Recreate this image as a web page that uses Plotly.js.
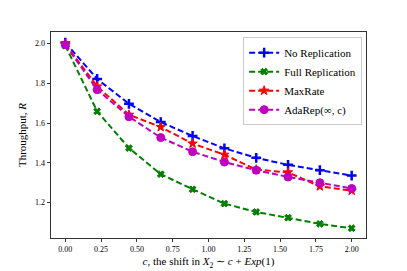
<!DOCTYPE html>
<html>
<head>
<meta charset="utf-8">
<script src="https://cdn.plot.ly/plotly-3.0.1.min.js"></script>
<style>html,body{margin:0;padding:0;background:#fff;}#chart{width:407px;height:271px;}</style>
</head>
<body>
<div id="chart"></div>
<script>
const shiftC = [0, 0.2222, 0.4444, 0.6667, 0.8889, 1.1111, 1.3333, 1.5556, 1.7778, 2.0];
const noReplication = [2.005, 1.822, 1.697, 1.605, 1.535, 1.473, 1.425, 1.390, 1.363, 1.336];
const fullReplication = [1.990, 1.659, 1.474, 1.343, 1.267, 1.195, 1.153, 1.124, 1.093, 1.071];
const maxRate = [1.997, 1.784, 1.642, 1.580, 1.497, 1.441, 1.366, 1.352, 1.282, 1.260];
const adaRep = [1.994, 1.768, 1.632, 1.527, 1.456, 1.404, 1.363, 1.329, 1.300, 1.271];
const seriesNames = ["No Replication", "Full Replication", "MaxRate", "AdaRep(\u221E, c)"];
const xTickVals = [0, 0.25, 0.5, 0.75, 1.0, 1.25, 1.5, 1.75, 2.0];
const yTickVals = [1.2, 1.4, 1.6, 1.8, 2.0];

const FONT = "Liberation Serif, serif";
const dash = "6px,3px";
function tr(y, name, color, symbol, size) {
  return {
    x: shiftC, y: y, name: name, type: "scatter", mode: "lines+markers",
    line: {color: color, width: 2, dash: dash},
    marker: {color: color, symbol: symbol, size: size, line: {color: color, width: 1}}
  };
}
const data = [
  tr(noReplication, seriesNames[0], "#0000ff", "cross-thin", 7),
  tr(fullReplication, seriesNames[1], "#008000", "x", 6),
  tr(maxRate, seriesNames[2], "#ff0000", "star", 7),
  tr(adaRep, seriesNames[3], "#bf00bf", "circle", 8)
];
data[0].marker.line.width = 2.5;
const layout = {
  width: 407, height: 271,
  margin: {l: 51, r: 41, t: 32, b: 33},
  paper_bgcolor: "#fff", plot_bgcolor: "#fff",
  font: {family: FONT, size: 8, color: "#000"},
  xaxis: {
    range: [-0.1, 2.1], tickvals: xTickVals, tickformat: ".2f",
    ticks: "outside", ticklen: 3.5, tickwidth: 0.8, tickcolor: "#000",
    showline: true, mirror: true, linecolor: "#000", linewidth: 0.8,
    showgrid: false, zeroline: false, tickfont: {size: 8, family: FONT},
    title: {text: "<i>c</i>, the shift in <i>X</i><sub>2</sub> \u223C <i>c</i> + <i>Exp</i>(1)", font: {size: 11, family: FONT}, standoff: 4}
  },
  yaxis: {
    range: [1.022, 2.058], tickvals: yTickVals, tickformat: ".1f",
    ticks: "outside", ticklen: 3.5, tickwidth: 0.8, tickcolor: "#000",
    showline: true, mirror: true, linecolor: "#000", linewidth: 0.8,
    showgrid: false, zeroline: false, tickfont: {size: 8, family: FONT},
    title: {text: "Throughput, <i>R</i>", font: {size: 11, family: FONT}, standoff: 6}
  },
  legend: {
    x: 0.61, y: 0.975, xanchor: "left", yanchor: "top",
    bgcolor: "rgba(255,255,255,0.8)", bordercolor: "#cccccc", borderwidth: 1,
    font: {size: 11, family: FONT}, tracegroupgap: 0
  },
  showlegend: true
};
Plotly.newPlot("chart", data, layout, {displayModeBar: false, staticPlot: true});
</script>
</body>
</html>
